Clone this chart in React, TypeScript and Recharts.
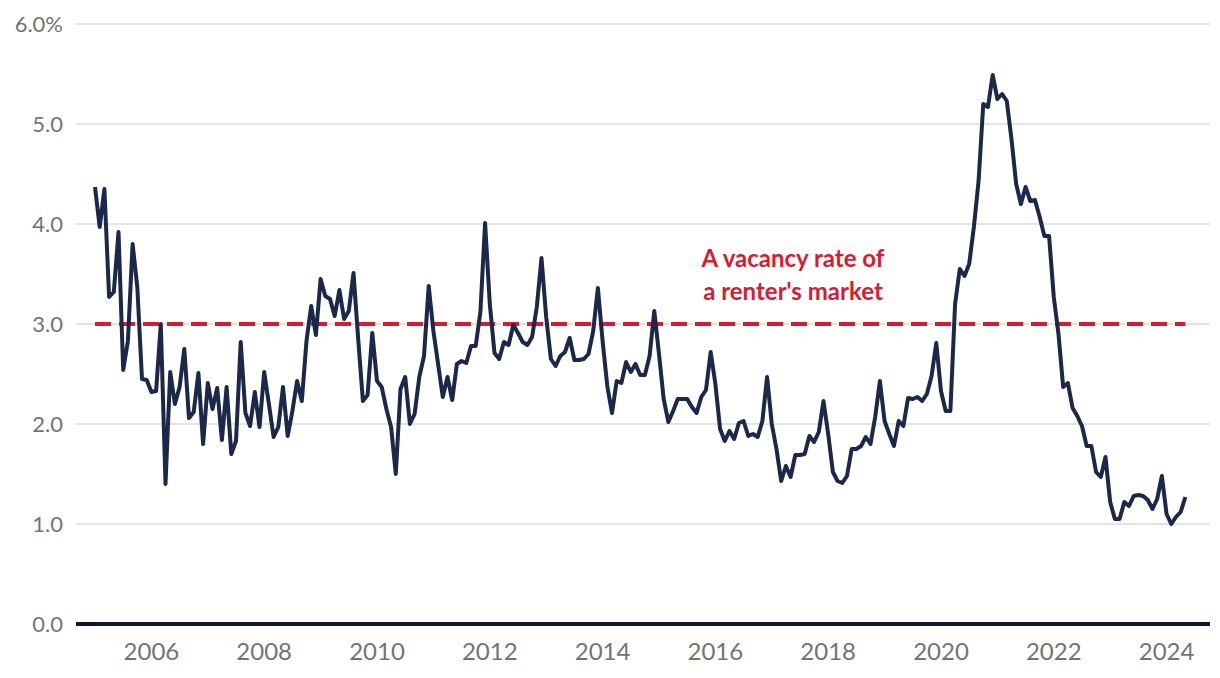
import React from 'react';
import {
  LineChart,
  Line,
  XAxis,
  YAxis,
  CartesianGrid,
} from 'recharts';

// monthly rental vacancy rate (%), Jan 2005 - May 2024
const START_YEAR = 2005;
const RENTERS_MARKET = 3.0;

const y2005 = [4.37, 3.97, 4.35, 3.27, 3.32, 3.92, 2.54, 2.83, 3.8, 3.37, 2.45, 2.44];
const y2006 = [2.32, 2.33, 3.0, 1.4, 2.52, 2.2, 2.37, 2.75, 2.06, 2.12, 2.51, 1.8];
const y2007 = [2.41, 2.15, 2.36, 1.84, 2.37, 1.7, 1.83, 2.82, 2.11, 1.98, 2.32, 1.97];
const y2008 = [2.52, 2.2, 1.87, 1.97, 2.37, 1.88, 2.13, 2.43, 2.23, 2.83, 3.18, 2.89];
const y2009 = [3.45, 3.28, 3.25, 3.08, 3.34, 3.05, 3.13, 3.51, 2.85, 2.23, 2.29, 2.91];
const y2010 = [2.43, 2.37, 2.15, 1.97, 1.5, 2.35, 2.47, 2.0, 2.1, 2.47, 2.68, 3.38];
const y2011 = [2.93, 2.6, 2.27, 2.47, 2.24, 2.6, 2.63, 2.61, 2.78, 2.78, 3.12, 4.01];
const y2012 = [3.2, 2.71, 2.65, 2.82, 2.79, 2.99, 2.91, 2.82, 2.79, 2.87, 3.17, 3.66];
const y2013 = [3.07, 2.65, 2.58, 2.68, 2.72, 2.86, 2.64, 2.64, 2.65, 2.7, 2.93, 3.36];
const y2014 = [2.83, 2.38, 2.11, 2.43, 2.41, 2.62, 2.52, 2.6, 2.49, 2.49, 2.68, 3.13];
const y2015 = [2.7, 2.25, 2.02, 2.13, 2.25, 2.25, 2.25, 2.17, 2.11, 2.27, 2.34, 2.72];
const y2016 = [2.4, 1.95, 1.83, 1.93, 1.85, 2.01, 2.03, 1.88, 1.9, 1.87, 2.03, 2.47];
const y2017 = [2.0, 1.75, 1.43, 1.58, 1.47, 1.69, 1.69, 1.7, 1.88, 1.82, 1.92, 2.23];
const y2018 = [1.9, 1.52, 1.43, 1.41, 1.48, 1.75, 1.75, 1.78, 1.87, 1.8, 2.07, 2.43];
const y2019 = [2.03, 1.9, 1.78, 2.03, 1.98, 2.26, 2.25, 2.27, 2.23, 2.3, 2.48, 2.81];
const y2020 = [2.33, 2.13, 2.13, 3.2, 3.55, 3.48, 3.6, 3.97, 4.43, 5.2, 5.17, 5.49];
const y2021 = [5.25, 5.3, 5.23, 4.85, 4.4, 4.2, 4.37, 4.23, 4.24, 4.07, 3.88, 3.88];
const y2022 = [3.27, 2.9, 2.37, 2.41, 2.16, 2.08, 1.98, 1.78, 1.78, 1.52, 1.47, 1.67];
const y2023 = [1.22, 1.05, 1.05, 1.22, 1.18, 1.28, 1.29, 1.28, 1.24, 1.15, 1.25, 1.48];
const y2024 = [1.1, 1.0, 1.07, 1.12, 1.27];

const years = [
  y2005, y2006, y2007, y2008, y2009, y2010, y2011, y2012, y2013, y2014,
  y2015, y2016, y2017, y2018, y2019, y2020, y2021, y2022, y2023, y2024,
];

const xTicks = [2006, 2008, 2010, 2012, 2014, 2016, 2018, 2020, 2022, 2024];
const yTicks = [0, 1, 2, 3, 4, 5, 6];

const data = years.flatMap((vals, yi) =>
  vals.map((v, mi) => ({
    t: START_YEAR + yi + mi / 12,
    rate: v,
    threshold: RENTERS_MARKET,
  }))
);

const NAVY = '#1b2849';
const RED = '#d91a31';
const GREY = '#737373';

const App: React.FC = () => {
  return (
    <div style={{ position: 'relative', width: 1220, height: 678, background: '#fff' }}>
      <style>{'body{margin:0}'}</style>
      <LineChart
        width={1220}
        height={678}
        data={data}
        margin={{ top: 24, right: 10, left: 0, bottom: 24 }}
      >
        <CartesianGrid horizontal vertical={false} stroke="#e3e3e3" strokeWidth={2} />
        <XAxis
          type="number"
          dataKey="t"
          domain={[2004.663, 2024.77]}
          ticks={xTicks}
          allowDataOverflow
          height={30}
          tickLine={false}
          axisLine={{ stroke: '#0e1834', strokeWidth: 4 }}
          tickMargin={13}
          tick={{ fontSize: 24, fill: GREY, fontFamily: 'Lato' }}
        />
        <YAxis
          domain={[0, 6]}
          ticks={yTicks}
          width={76}
          axisLine={false}
          tickLine={false}
          tickMargin={7}
          tick={{ fontSize: 22, fill: GREY, fontFamily: 'Lato' }}
          tickFormatter={(v: number) => (v === 6 ? '6.0%' : v.toFixed(1))}
        />
        <Line
          dataKey="threshold"
          stroke={RED}
          strokeWidth={4}
          strokeDasharray="16 8"
          dot={false}
          activeDot={false}
          isAnimationActive={false}
        />
        <Line
          dataKey="rate"
          type="linear"
          stroke={NAVY}
          strokeWidth={4}
          strokeLinejoin="round"
          dot={false}
          activeDot={false}
          isAnimationActive={false}
        />
      </LineChart>
      <div
        style={{
          position: 'absolute',
          left: 643,
          top: 241,
          width: 300,
          textAlign: 'center',
          color: RED,
          fontFamily: 'Lato',
          fontWeight: 700,
          fontSize: 24,
          lineHeight: '33px',
        }}
      >
        A vacancy rate of
        <br />
        a renter's market
      </div>
    </div>
  );
};

export default App;
